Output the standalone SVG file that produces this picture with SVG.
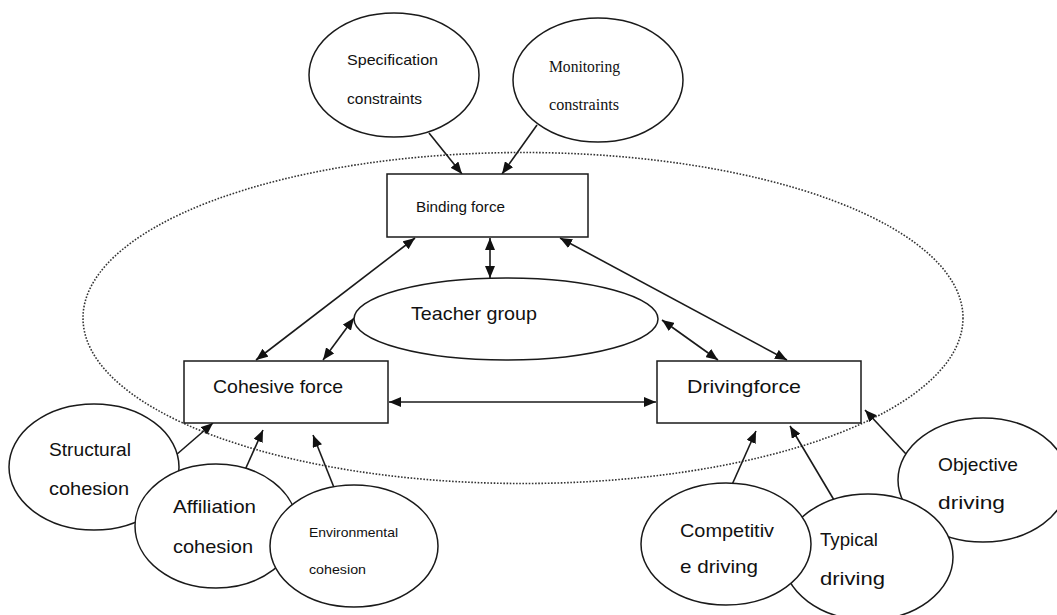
<svg xmlns="http://www.w3.org/2000/svg" width="1057" height="615" viewBox="0 0 1057 615">
<style>
.node{fill:#fff;stroke:#1a1a1a;stroke-width:1.5}
.t{font-family:"Liberation Sans",Arial,sans-serif;font-size:19px;fill:#111}
.s{font-family:"Liberation Sans",Arial,sans-serif;font-size:15px;fill:#111}
.xs{font-family:"Liberation Sans",Arial,sans-serif;font-size:13px;fill:#111}
.serif{font-family:"Liberation Serif","Times New Roman",serif;font-size:16px;fill:#111}
.c{stroke:#1a1a1a;stroke-width:1.6;fill:none}
</style>
<defs>
<marker id="ah" viewBox="0 0 12 10" refX="12" refY="5" markerWidth="12" markerHeight="10" markerUnits="userSpaceOnUse" orient="auto-start-reverse"><path d="M0,0 L12,5 L0,10 z" fill="#111"/></marker>
</defs>
<rect width="1057" height="615" fill="#fff"/>
<ellipse id="boundary" cx="523" cy="318" rx="440" ry="165.5" fill="none" stroke="#333" stroke-width="1.6" stroke-dasharray="1.6 1.6"/>
<g id="connectors">
<line class="c" x1="429" y1="133" x2="462" y2="174" marker-end="url(#ah)"/>
<line class="c" x1="537" y1="125" x2="502" y2="174" marker-end="url(#ah)"/>
<line class="c" x1="415" y1="238" x2="256" y2="360" marker-start="url(#ah)" marker-end="url(#ah)"/>
<line class="c" x1="490" y1="238" x2="490" y2="278" marker-start="url(#ah)" marker-end="url(#ah)"/>
<line class="c" x1="354" y1="318" x2="323" y2="360" marker-start="url(#ah)" marker-end="url(#ah)"/>
<line class="c" x1="560" y1="238" x2="787" y2="360" marker-start="url(#ah)" marker-end="url(#ah)"/>
<line class="c" x1="662" y1="320" x2="718" y2="360" marker-start="url(#ah)" marker-end="url(#ah)"/>
<line class="c" x1="389" y1="402" x2="656" y2="402" marker-start="url(#ah)" marker-end="url(#ah)"/>
<line class="c" x1="176" y1="455" x2="213" y2="423" marker-end="url(#ah)"/>
<line class="c" x1="245" y1="470" x2="263" y2="430" marker-end="url(#ah)"/>
<line class="c" x1="335" y1="490" x2="313" y2="435" marker-end="url(#ah)"/>
<line class="c" x1="731" y1="487" x2="756" y2="431" marker-end="url(#ah)"/>
<line class="c" x1="834" y1="500" x2="790" y2="426" marker-end="url(#ah)"/>
<line class="c" x1="906" y1="454" x2="865" y2="410" marker-end="url(#ah)"/>
</g>
<g id="spec">
<ellipse class="node" cx="394" cy="75" rx="85" ry="62"/>
<text class="s" x="347" y="65" textLength="91" lengthAdjust="spacingAndGlyphs">Specification</text>
<text class="s" x="347" y="104" textLength="75" lengthAdjust="spacingAndGlyphs">constraints</text>
</g>
<g id="monitoring">
<ellipse class="node" cx="598" cy="80" rx="85" ry="62"/>
<text class="serif" x="549" y="72" textLength="71" lengthAdjust="spacingAndGlyphs">Monitoring</text>
<text class="serif" x="549" y="110" textLength="70" lengthAdjust="spacingAndGlyphs">constraints</text>
</g>
<g id="binding">
<rect class="node" x="387" y="174" width="201" height="63"/>
<text class="s" x="416" y="212" textLength="89" lengthAdjust="spacingAndGlyphs">Binding force</text>
</g>
<g id="teacher">
<ellipse class="node" cx="506" cy="319" rx="152" ry="41"/>
<text class="t" x="411" y="320" textLength="126" lengthAdjust="spacingAndGlyphs">Teacher group</text>
</g>
<g id="cohesive">
<rect class="node" x="184" y="361" width="204" height="62"/>
<text class="t" x="213" y="393" textLength="130" lengthAdjust="spacingAndGlyphs">Cohesive force</text>
</g>
<g id="driving">
<rect class="node" x="657" y="361" width="204" height="62"/>
<text class="t" x="687" y="393" textLength="114" lengthAdjust="spacingAndGlyphs">Drivingforce</text>
</g>
<g id="structural">
<ellipse class="node" cx="94" cy="467" rx="85" ry="63"/>
<text class="t" x="49" y="456" textLength="82" lengthAdjust="spacingAndGlyphs">Structural</text>
<text class="t" x="49" y="495" textLength="80" lengthAdjust="spacingAndGlyphs">cohesion</text>
</g>
<g id="affiliation">
<ellipse class="node" cx="216" cy="526" rx="81" ry="62"/>
<text class="t" x="173" y="513" textLength="83" lengthAdjust="spacingAndGlyphs">Affiliation</text>
<text class="t" x="173" y="553" textLength="80" lengthAdjust="spacingAndGlyphs">cohesion</text>
</g>
<g id="environmental">
<ellipse class="node" cx="354" cy="546" rx="84" ry="61"/>
<text class="xs" x="309" y="537" textLength="89" lengthAdjust="spacingAndGlyphs">Environmental</text>
<text class="xs" x="309" y="574" textLength="57" lengthAdjust="spacingAndGlyphs">cohesion</text>
</g>
<g id="objective">
<ellipse class="node" cx="983" cy="480" rx="85" ry="62"/>
<text class="t" x="938" y="471" textLength="80" lengthAdjust="spacingAndGlyphs">Objective</text>
<text class="t" x="938" y="509" textLength="67" lengthAdjust="spacingAndGlyphs">driving</text>
</g>
<g id="typical">
<ellipse class="node" cx="868" cy="557" rx="85" ry="63"/>
<text class="t" x="820" y="546" textLength="58" lengthAdjust="spacingAndGlyphs">Typical</text>
<text class="t" x="820" y="585" textLength="65" lengthAdjust="spacingAndGlyphs">driving</text>
</g>
<g id="competitive">
<ellipse class="node" cx="726" cy="544" rx="85" ry="61"/>
<text class="t" x="680" y="537" textLength="94" lengthAdjust="spacingAndGlyphs">Competitiv</text>
<text class="t" x="680" y="573" textLength="78" lengthAdjust="spacingAndGlyphs">e driving</text>
</g>
</svg>
